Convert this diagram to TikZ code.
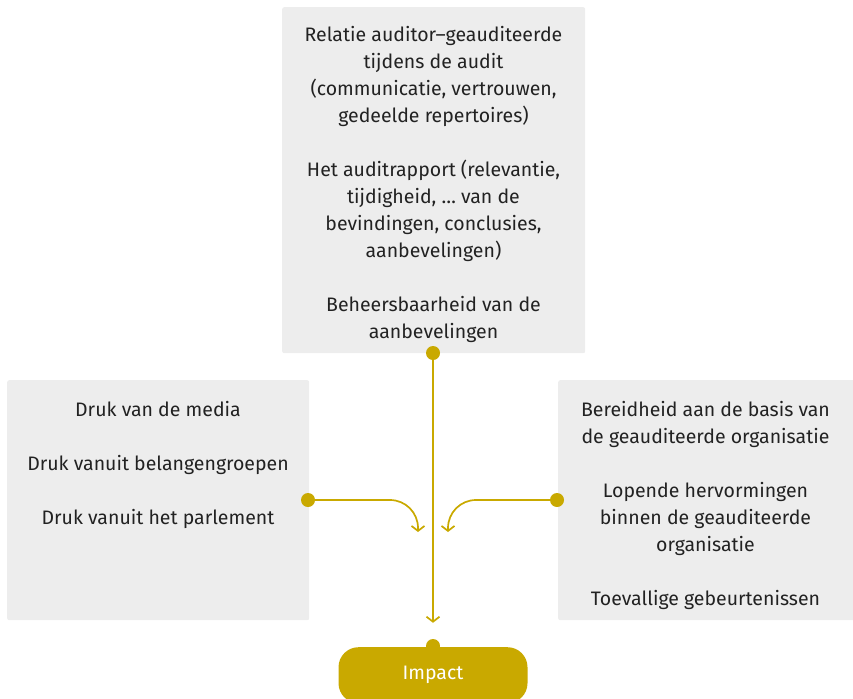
\documentclass[tikz,border=0pt]{standalone}
\usepackage{fontspec}
\setmainfont{Fira Sans}
\usetikzlibrary{positioning,arrows.meta}
\definecolor{goud}{HTML}{C9A900}
\definecolor{grijs}{HTML}{EDEDED}
\definecolor{donker}{HTML}{222222}

\begin{document}
\begin{tikzpicture}[x=1pt,y=-1pt,
    vak/.style={fill=grijs, rounded corners=2pt, inner sep=0pt, anchor=north west},
    tekstblok/.style={align=center, text=donker, font=\fontsize{19.5}{27}\selectfont, inner sep=0pt, anchor=north},
    punt/.style={circle, fill=goud, minimum size=14pt, inner sep=0pt},
    pijl/.style={draw=goud, line width=1.7pt, -{Straight Barb[length=5pt,width=13pt]}}]
    \useasboundingbox (0,0) rectangle (853,698);

    % grijze vakken
    \node[vak, minimum width=303pt, minimum height=346pt] (midden) at (282,7) {};
    \node[vak, minimum width=302pt, minimum height=240pt] (links) at (7,380) {};
    \node[vak, minimum width=300pt, minimum height=240pt] (rechts) at (558,380) {};

    \node[tekstblok] (middentekst) at (433.5,26) {Relatie auditor–geauditeerde\\ tijdens de audit\\ (communicatie, vertrouwen,\\ gedeelde repertoires)\\[27pt]
        Het auditrapport (relevantie,\\ tijdigheid, … van de\\ bevindingen, conclusies,\\ aanbevelingen)\\[27pt]
        Beheersbaarheid van de\\ aanbevelingen};
    \node[tekstblok] (linkstekst) at (158,401) {Druk van de media\\[27pt] Druk vanuit belangengroepen\\[27pt] Druk vanuit het parlement};
    \node[tekstblok] (rechtstekst) at (705.5,401) {Bereidheid aan de basis van\\ de geauditeerde organisatie\\[27pt]
        Lopende hervormingen\\ binnen de geauditeerde\\ organisatie\\[27pt]
        Toevallige gebeurtenissen};

    % impact
    \node[punt] (pimpact) at (433,646) {};
    \node[fill=goud, rounded corners=20pt, minimum width=189pt, minimum height=56pt, anchor=north,
        text=white, font=\fontsize{19.5}{22}\selectfont] (impact) at (433,647) {Impact};

    % punten en pijlen
    \node[punt] (pmidden) at (433,353) {};
    \node[punt] (plinks) at (308,500) {};
    \node[punt] (prechts) at (557,500) {};
    \coordinate (linksdoel) at (418,532);
    \coordinate (rechtsdoel) at (448,532);

    \draw[pijl, shorten >=16pt] (pmidden) -- (pimpact.north);
    \draw[pijl, rounded corners=28pt] (plinks) -| (linksdoel);
    \draw[pijl, rounded corners=28pt] (prechts) -| (rechtsdoel);
\end{tikzpicture}
\end{document}
